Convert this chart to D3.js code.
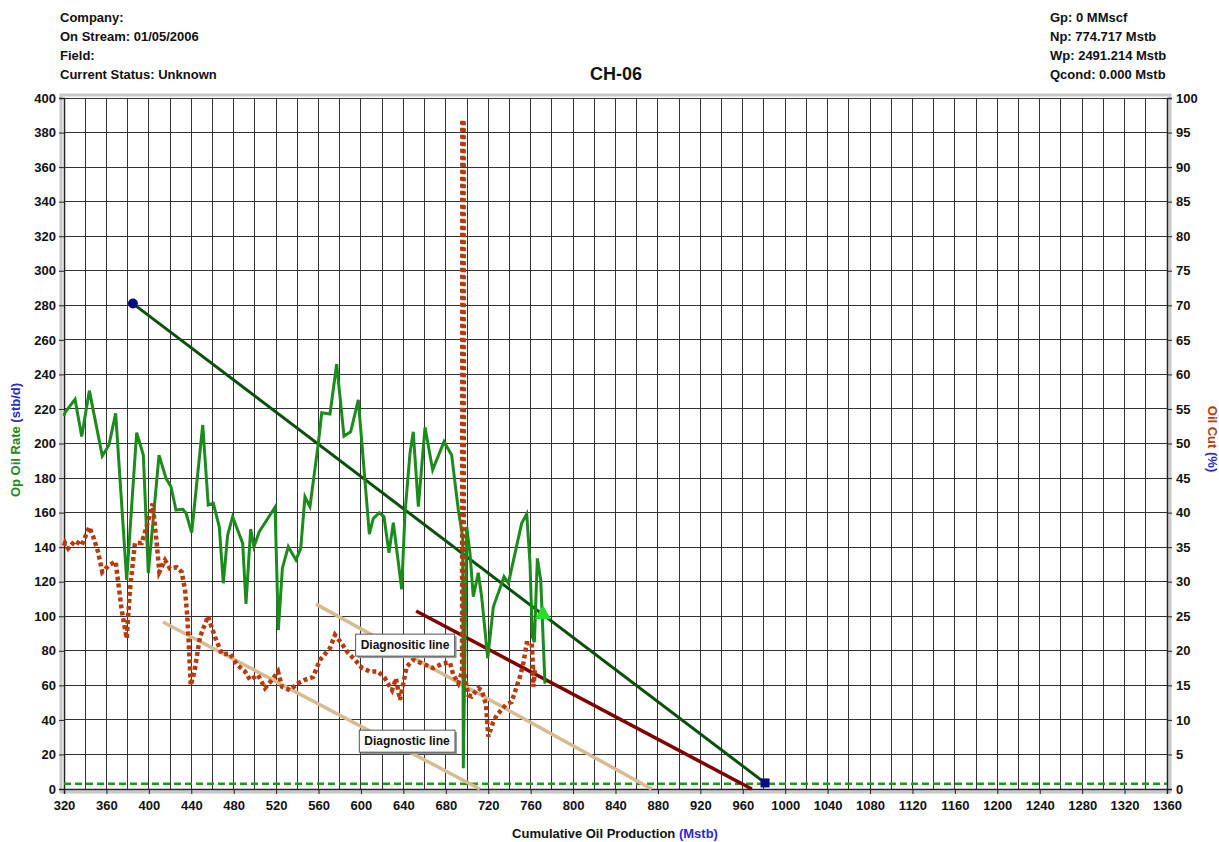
<!DOCTYPE html>
<html>
<head>
<meta charset="utf-8">
<script src="https://cdn.jsdelivr.net/npm/d3@7"></script>
<style>
body { margin: 0; background: #fff; }
svg text { font-family: Arial, "Liberation Sans", sans-serif; font-weight: bold; fill: #111; }
</style>
</head>
<body>
<div id="chart"></div>
<script>
// header texts
var headerLeft = ["Company:", "On Stream: 01/05/2006", "Field:", "Current Status: Unknown"];
var headerRight = ["Gp: 0 MMscf", "Np: 774.717 Mstb", "Wp: 2491.214 Mstb", "Qcond: 0.000 Mstb"];
var chartTitle = "CH-06";

// axis ticks
var xTicks = d3.range(320, 1361, 40);
var xGrid = d3.range(320, 1361, 20);
var yTicks = d3.range(0, 401, 20);
var y2Ticks = d3.range(0, 101, 5);

// oil rate (stb/d) vs cumulative oil (Mstb)
var rateCum = [320, 321, 330.4, 336.7, 343.9, 356.1, 362.4, 368.7, 379.1, 388.5, 394.8, 399.5, 409.6, 416.2, 420.9, 425.6, 432, 435.1, 440.4, 450.8, 456, 460.8, 466.4, 470.2, 474.3, 479, 488.5, 491.6, 496, 499.1, 504.1, 519, 522.1, 525.9, 531.5, 538.7, 543.2, 547.2, 551.9, 559.8, 563, 570.8, 577.1, 584, 590.3, 597.5, 607.9, 611.6, 617.3, 621.7, 626.4, 630.5, 638.4, 641.5, 646.2, 649.3, 654.1, 660.4, 667.6, 678.3, 685.5, 691.8, 695.9, 696.5, 699.7, 702.8, 705.9, 710.6, 713.8, 719.5, 724.8, 730.5, 734.9, 739, 751.5, 756.3, 759.4, 761.6, 763.5, 766.3, 769.5, 773.5];
var oilRate = [216, 218, 225.6, 204, 230.6, 192.8, 199.1, 217.5, 121, 206.3, 193.3, 124.9, 193.3, 179.8, 175, 161.5, 161.9, 159.6, 148.4, 210.7, 164.4, 165.4, 151.8, 119.1, 147, 157.6, 142.2, 107.1, 150.5, 140.3, 148.9, 163.1, 92, 127.8, 140.3, 132.6, 139.3, 169.2, 163.4, 200.1, 217.8, 217.1, 246, 204.3, 206.8, 225.2, 147.6, 156.6, 159.9, 157.6, 136.8, 154.2, 115.6, 159.5, 194.3, 206.8, 163.4, 209.4, 184.7, 201, 193.3, 161.5, 146, 12, 151.8, 136.4, 111.3, 125.2, 111.3, 75.7, 105.5, 115.2, 122.9, 119.1, 153.8, 159.2, 130.6, 88, 85, 133.5, 121, 61];

// oil cut (%) vs cumulative oil (Mstb)
var cutCum = [320, 321, 324, 330.4, 336.7, 343.9, 347.6, 352.3, 356.1, 362.4, 368.7, 371.2, 374.4, 379.1, 382.2, 386.9, 393.3, 397.9, 403.6, 407.4, 409.9, 415.2, 419.9, 426.3, 431, 434.1, 436.3, 438.1, 439.5, 443, 448.2, 455.8, 462.4, 469, 476.5, 483.1, 490.7, 495.4, 502.9, 509.5, 516.1, 521.8, 525.5, 533.1, 540.6, 547.2, 554.8, 561.4, 570.8, 575.5, 582.1, 587.8, 594.4, 601, 608.5, 616.1, 622.7, 629.3, 633, 636.8, 643.1, 649.3, 668.2, 677.6, 683.9, 687.1, 691.8, 695.3, 695.6, 696.8, 697, 701.2, 704.4, 710.6, 713.8, 717.9, 719.1, 720.1, 724.2, 728, 736.7, 742.1, 746.8, 750, 753.1, 756.3, 761, 762, 762.5, 764.1, 767.2];
var oilCut = [35.2, 35.6, 34.8, 35.9, 35.3, 37.9, 36.5, 34.2, 31.4, 32.4, 32.9, 29.8, 25.9, 21.8, 28.8, 35.6, 35.6, 38, 41.3, 35.6, 31.4, 33.1, 31.9, 32.1, 31.4, 28.8, 24.9, 19.6, 15, 17, 22, 25, 22, 19.5, 19.6, 18, 17, 15.8, 16.5, 14.6, 15.8, 17, 14.8, 14.3, 15.3, 15.8, 16.2, 18.7, 20.4, 22.3, 21, 19.7, 18.7, 17.5, 17, 17, 16, 14.3, 16, 12.9, 17.7, 18.7, 17.5, 18.2, 18.3, 16.5, 15.3, 17, 96.8, 96.8, 17, 13.6, 13.4, 14.6, 14.3, 12.2, 9.5, 7.6, 9.5, 10.7, 12.2, 12.6, 14.8, 16.3, 18.2, 21.1, 21.1, 18.2, 14.8, 17.2, 17.2];

// decline lines [x1, y1, x2, y2] in (Mstb, stb/d)
var declineLine = [385, 281, 981, 3.5];
var forecastPoint = [771.6, 101];
var redLine = [652, 103, 968.5, 0];
var tanLines = [[413.3, 96.7, 712, 0], [557.6, 107, 874, 0]];
var limitRate = 3;
var notes = [
  {text: "Diagnositic line", x: 641.5, y: 83.4},
  {text: "Diagnostic line", x: 643.4, y: 27.8}
];

var width = 1219, height = 842;
var margin = {top: 98, right: 52, bottom: 53, left: 64};
var plotW = width - margin.left - margin.right;
var plotH = height - margin.top - margin.bottom;

var svg = d3.select("#chart").append("svg")
  .attr("width", width)
  .attr("height", height);

// header
svg.append("g").selectAll("text").data(headerLeft).enter().append("text")
  .attr("x", 60).attr("y", function(d, i) { return 22 + i * 19; })
  .attr("font-size", "13px").text(function(d) { return d; });
svg.append("g").selectAll("text").data(headerRight).enter().append("text")
  .attr("x", 1050).attr("y", function(d, i) { return 22 + i * 19; })
  .attr("font-size", "13px").text(function(d) { return d; });
svg.append("text").attr("x", 616).attr("y", 80).attr("text-anchor", "middle")
  .attr("font-size", "18px").text(chartTitle);

var x = d3.scaleLinear().domain([320, 1360]).range([0, plotW]);
var y = d3.scaleLinear().domain([0, 400]).range([plotH, 0]);
var y2 = d3.scaleLinear().domain([0, 100]).range([plotH, 0]);

var chartGroup = svg.append("g")
  .attr("transform", `translate(${margin.left}, ${margin.top})`);

// bevelled frame
chartGroup.append("rect")
  .attr("x", -3).attr("y", -3).attr("width", plotW + 6).attr("height", plotH + 6)
  .attr("fill", "none").attr("stroke", "#c8c8c8").attr("stroke-width", 3);

// grid
var grid = chartGroup.append("g").attr("shape-rendering", "crispEdges");
grid.selectAll(".vg").data(xGrid).enter().append("line")
  .attr("x1", d => x(d)).attr("x2", d => x(d)).attr("y1", 0).attr("y2", plotH)
  .attr("stroke", "#333").attr("stroke-width", 1);
grid.selectAll(".hg").data(yTicks).enter().append("line")
  .attr("x1", 0).attr("x2", plotW).attr("y1", d => y(d)).attr("y2", d => y(d))
  .attr("stroke", "#333").attr("stroke-width", 1);

// axes
var leftAxis = d3.axisLeft(y).tickValues(yTicks).tickSize(5).tickPadding(3);
var rightAxis = d3.axisRight(y2).tickValues(y2Ticks).tickSize(5).tickPadding(4);
var bottomAxis = d3.axisBottom(x).tickValues(xTicks).tickFormat(d3.format("d"))
  .tickSize(5).tickPadding(7);

function styleAxis(g) {
  g.select(".domain").attr("stroke", "#222").attr("stroke-width", 1.5);
  g.selectAll(".tick line").attr("stroke", "#222");
  g.selectAll(".tick text").attr("font-size", "13px").attr("fill", "#111")
    .attr("font-family", "Arial, 'Liberation Sans', sans-serif").attr("font-weight", "bold");
}
chartGroup.append("g").call(leftAxis).call(styleAxis);
chartGroup.append("g").attr("transform", `translate(${plotW}, 0)`).call(rightAxis).call(styleAxis);
chartGroup.append("g").attr("transform", `translate(0, ${plotH})`).call(bottomAxis).call(styleAxis);

// axis titles
var ylab = svg.append("text")
  .attr("transform", "translate(20, 440) rotate(-90)")
  .attr("text-anchor", "middle").attr("font-size", "13px");
ylab.append("tspan").attr("fill", "#1a8a1a").text("Op Oil Rate ");
ylab.append("tspan").attr("fill", "#2a2ac8").text("(stb/d)");

var y2lab = svg.append("text")
  .attr("transform", "translate(1208, 439) rotate(90)")
  .attr("text-anchor", "middle").attr("font-size", "13px");
y2lab.append("tspan").attr("fill", "#b83a10").text("Oil Cut ");
y2lab.append("tspan").attr("fill", "#2a2ac8").text("(%)");

var xlab = svg.append("text")
  .attr("x", 615).attr("y", 838).attr("text-anchor", "middle").attr("font-size", "13px");
xlab.append("tspan").text("Cumulative Oil Production ");
xlab.append("tspan").attr("fill", "#2a2ac8").text("(Mstb)");

var plot = chartGroup.append("g");

// economic limit
plot.append("line")
  .attr("x1", 0).attr("x2", plotW).attr("y1", y(limitRate)).attr("y2", y(limitRate))
  .attr("stroke", "#1c9a1c").attr("stroke-width", 2.5).attr("stroke-dasharray", "7,4");

// diagnostic lines
plot.selectAll(".tan").data(tanLines).enter().append("line")
  .attr("x1", d => x(d[0])).attr("y1", d => y(d[1]))
  .attr("x2", d => x(d[2])).attr("y2", d => y(d[3]))
  .attr("stroke", "#d8bb92").attr("stroke-width", 3.5);

plot.append("line")
  .attr("x1", x(redLine[0])).attr("y1", y(redLine[1]))
  .attr("x2", x(redLine[2])).attr("y2", y(redLine[3]))
  .attr("stroke", "#800000").attr("stroke-width", 3.5);

plot.append("line")
  .attr("x1", x(declineLine[0])).attr("y1", y(declineLine[1]))
  .attr("x2", x(declineLine[2])).attr("y2", y(declineLine[3]))
  .attr("stroke", "#0c4f0c").attr("stroke-width", 3);

// oil rate line
var rateLine = d3.line().x((d, i) => x(rateCum[i])).y(d => y(d));
plot.append("path").datum(oilRate)
  .attr("d", rateLine).attr("fill", "none")
  .attr("stroke", "#1b8c1b").attr("stroke-width", 3).attr("stroke-linejoin", "miter");

// oil cut dotted
var cutLine = d3.line().x((d, i) => x(cutCum[i])).y(d => y2(d));
plot.append("path").datum(oilCut)
  .attr("d", cutLine).attr("fill", "none")
  .attr("stroke", "#b83a0c").attr("stroke-width", 4.5).attr("stroke-dasharray", "4,3");

// markers
plot.append("circle")
  .attr("cx", x(declineLine[0])).attr("cy", y(declineLine[1])).attr("r", 5)
  .attr("fill", "#0a0a80");
plot.append("rect")
  .attr("x", x(declineLine[2]) - 4.5).attr("y", y(declineLine[3]) - 4.5)
  .attr("width", 9).attr("height", 9).attr("fill", "#0a0a80");
plot.append("path")
  .attr("d", d3.symbol().type(d3.symbolTriangle).size(110))
  .attr("transform", `translate(${x(forecastPoint[0])}, ${y(forecastPoint[1])})`)
  .attr("fill", "#22e022");

// note boxes
notes.forEach(function(n) {
  var g = plot.append("g").attr("transform", `translate(${x(n.x)}, ${y(n.y)})`);
  var t = g.append("text").attr("text-anchor", "middle").attr("dy", "0.35em")
    .attr("font-size", "12px").text(n.text);
  var b = t.node().getBBox();
  g.insert("rect", "text")
    .attr("x", b.x - 5 + 2).attr("y", b.y - 4 + 2).attr("width", b.width + 10).attr("height", b.height + 8)
    .attr("fill", "#999");
  g.insert("rect", "text")
    .attr("x", b.x - 5).attr("y", b.y - 4).attr("width", b.width + 10).attr("height", b.height + 8)
    .attr("fill", "#fff").attr("stroke", "#555").attr("stroke-width", 1);
});
</script>
</body>
</html>
